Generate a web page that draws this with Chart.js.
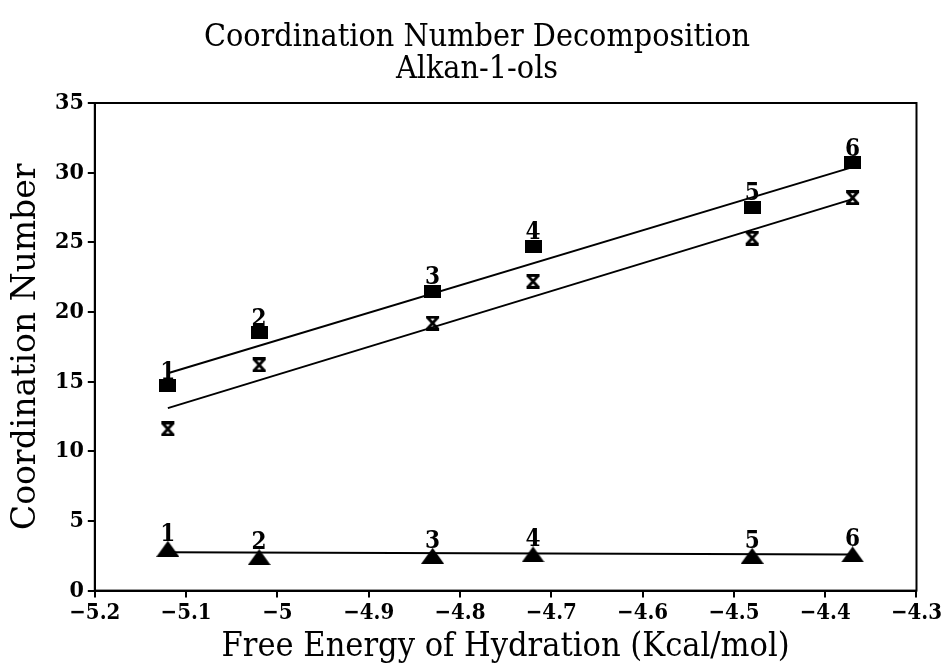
<!DOCTYPE html>
<html>
<head>
<meta charset="utf-8">
<script src="https://cdn.jsdelivr.net/npm/chart.js@4.4.1/dist/chart.umd.min.js"></script>
<style>
  html, body { margin: 0; padding: 0; background: #fff; }
  #wrap { width: 944px; height: 666px; position: relative; }
</style>
</head>
<body>
<div id="wrap"><canvas id="chart"></canvas></div>
<script>
// values
var xValues = [-5.12, -5.02, -4.83, -4.72, -4.48, -4.37];
var squareValues = [14.7, 18.5, 21.5, 24.7, 27.5, 30.7];
var hourglassValues = [11.6, 16.2, 19.2, 22.2, 25.3, 28.2];
var triangleValues = [3.0, 2.4, 2.5, 2.6, 2.5, 2.6];
var pointLabels = ['1', '2', '3', '4', '5', '6'];

// fitted lines (end points)
var fitX = [-5.12, -4.37];
var squareFit = [15.6, 30.4];
var hourglassFit = [13.1, 28.1];
var triangleFit = [2.75, 2.6];

var serif = "'DejaVu Serif Condensed', 'DejaVu Serif', serif";

function pairs(xs, ys) {
    return xs.map(function (x, i) { return { x: x, y: ys[i] }; });
}

function marker(w, h, draw) {
    var cv = document.createElement('canvas');
    cv.width = w;
    cv.height = h;
    var c = cv.getContext('2d');
    c.fillStyle = '#000';
    c.strokeStyle = '#000';
    draw(c);
    return cv;
}

var squareMark = marker(17, 13, function (c) {
    c.fillRect(0, 0, 17, 13);
});
var triangleMark = marker(23, 16, function (c) {
    c.beginPath();
    c.moveTo(11.5, 0);
    c.lineTo(23, 16);
    c.lineTo(0, 16);
    c.closePath();
    c.fill();
});
var hourglassMark = marker(17, 15, function (c) {
    c.lineWidth = 2.8;
    c.beginPath();
    c.moveTo(2, 1.5); c.lineTo(15, 1.5);
    c.moveTo(2, 13.5); c.lineTo(15, 13.5);
    c.moveTo(3.5, 2); c.lineTo(13.5, 13);
    c.moveTo(13.5, 2); c.lineTo(3.5, 13);
    c.stroke();
});

// number labels above the square and triangle markers + frame box
var labelPlugin = {
    id: 'labelPlugin',
    afterDatasetsDraw: function (chart) {
        var ctx = chart.ctx;
        var a = chart.chartArea;
        ctx.save();
        ctx.strokeStyle = '#000';
        ctx.lineWidth = 2;
        ctx.strokeRect(a.left, a.top, a.right - a.left, a.bottom - a.top);
        ctx.fillStyle = '#000';
        ctx.font = 'bold 24px ' + serif;
        ctx.textAlign = 'center';
        ctx.textBaseline = 'alphabetic';
        [[0, 7], [2, 8]].forEach(function (d) {
            var meta = chart.getDatasetMeta(d[0]);
            meta.data.forEach(function (pt, i) {
                ctx.fillText(pointLabels[i], pt.x, pt.y - d[1]);
            });
        });
        ctx.restore();
    }
};

new Chart(document.getElementById('chart').getContext('2d'), {
    type: 'scatter',
    data: {
        datasets: [
            { data: pairs(xValues, squareValues), pointStyle: squareMark, showLine: false },
            { data: pairs(xValues, hourglassValues), pointStyle: hourglassMark, showLine: false },
            { data: pairs(xValues, triangleValues), pointStyle: triangleMark, showLine: false },
            { data: pairs(fitX, squareFit), showLine: true, pointRadius: 0, borderColor: '#000', borderWidth: 2 },
            { data: pairs(fitX, hourglassFit), showLine: true, pointRadius: 0, borderColor: '#000', borderWidth: 2 },
            { data: pairs(fitX, triangleFit), showLine: true, pointRadius: 0, borderColor: '#000', borderWidth: 2 }
        ]
    },
    options: {
        responsive: true,
        maintainAspectRatio: false,
        animation: false,
        layout: { padding: { left: 10, right: 0, top: 8, bottom: 2 } },
        plugins: {
            legend: { display: false },
            tooltip: { enabled: false },
            title: {
                display: true,
                text: ['Coordination Number Decomposition', 'Alkan-1-ols'],
                color: '#000',
                font: { family: serif, size: 32, weight: 'normal', lineHeight: 1.0 },
                padding: { top: 14, bottom: 17 }
            }
        },
        scales: {
            x: {
                type: 'linear',
                min: -5.2,
                max: -4.3,
                border: { display: true, color: '#000', width: 2 },
                grid: { drawOnChartArea: false, drawTicks: true, tickLength: 7, color: '#000', lineWidth: 2 },
                ticks: {
                    stepSize: 0.1,
                    color: '#000',
                    padding: 2,
                    maxRotation: 0,
                    font: { family: serif, size: 22, weight: 'bold' },
                    callback: function (v) {
                        return Number(v.toFixed(1)).toString().replace('-', '\u2212');
                    }
                },
                title: {
                    display: true,
                    text: 'Free Energy of Hydration (Kcal/mol)',
                    color: '#000',
                    font: { family: serif, size: 34, lineHeight: 1.0 },
                    padding: { top: 2, bottom: 0 }
                }
            },
            y: {
                min: 0,
                max: 35,
                border: { display: true, color: '#000', width: 2 },
                grid: { drawOnChartArea: false, drawTicks: true, tickLength: 7, color: '#000', lineWidth: 2 },
                ticks: {
                    stepSize: 5,
                    color: '#000',
                    padding: 4,
                    font: { family: serif, size: 23, weight: 'bold' }
                },
                title: {
                    display: true,
                    text: 'Coordination Number',
                    color: '#000',
                    font: { family: "'DejaVu Serif', serif", size: 33, lineHeight: 1.0 },
                    padding: { top: 0, bottom: 8 }
                }
            }
        }
    },
    plugins: [labelPlugin]
});
</script>
</body>
</html>
